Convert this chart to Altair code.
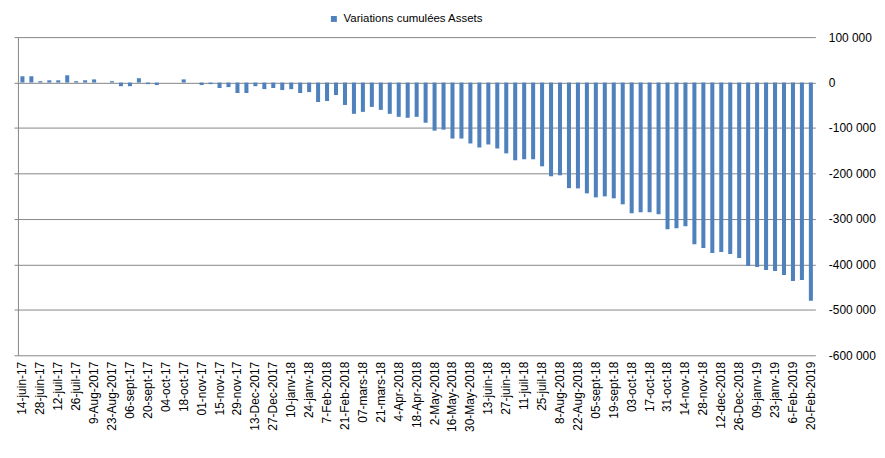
import altair as alt
import pandas as pd

labels = [
    "14-juin-17", "21-juin-17", "28-juin-17", "05-juil-17", "12-juil-17", "19-juil-17",
    "26-juil-17", "2-Aug-2017", "9-Aug-2017", "16-Aug-2017", "23-Aug-2017", "30-Aug-2017",
    "06-sept-17", "13-sept-17", "20-sept-17", "27-sept-17", "04-oct-17", "11-oct-17",
    "18-oct-17", "25-oct-17", "01-nov-17", "08-nov-17", "15-nov-17", "22-nov-17",
    "29-nov-17", "6-Dec-2017", "13-Dec-2017", "20-Dec-2017", "27-Dec-2017", "03-janv-18",
    "10-janv-18", "17-janv-18", "24-janv-18", "31-janv-18", "7-Feb-2018", "14-Feb-2018",
    "21-Feb-2018", "28-Feb-2018", "07-mars-18", "14-mars-18", "21-mars-18", "28-mars-18",
    "4-Apr-2018", "11-Apr-2018", "18-Apr-2018", "25-Apr-2018", "2-May-2018", "9-May-2018",
    "16-May-2018", "23-May-2018", "30-May-2018", "06-juin-18", "13-juin-18", "20-juin-18",
    "27-juin-18", "04-juil-18", "11-juil-18", "18-juil-18", "25-juil-18", "1-Aug-2018",
    "8-Aug-2018", "15-Aug-2018", "22-Aug-2018", "29-Aug-2018", "05-sept-18", "12-sept-18",
    "19-sept-18", "26-sept-18", "03-oct-18", "10-oct-18", "17-oct-18", "24-oct-18",
    "31-oct-18", "07-nov-18", "14-nov-18", "21-nov-18", "28-nov-18", "05-dec-2018",
    "12-dec-2018", "19-Dec-2018", "26-Dec-2018", "02-janv-19", "09-janv-19", "16-janv-19",
    "23-janv-19", "30-janv-19", "6-Feb-2019", "13-Feb-2019", "20-Feb-2019",
]

values = [
    13800, 13800, 3000, 5000, 5000, 16000, 3000, 5000, 7000, 0,
    3000, -8000, -8000, 9500, -3500, -5500, 0, 0, 7000, 0,
    -5500, -3500, -12000, -10000, -23000, -23000, -8000, -14500, -12000, -16500,
    -14500, -23000, -21000, -42800, -40600, -27500, -49300, -68800, -64500, -53600,
    -60100, -68800, -75400, -77500, -75400, -88400, -105800, -103600, -123200, -123200,
    -134000, -142800, -136200, -145000, -155800, -171000, -168800, -168800, -184300, -206200,
    -204000, -232300, -232800, -243800, -252600, -250400, -254700, -267900, -287600, -285400,
    -285400, -289800, -322600, -320400, -316100, -355500, -364200, -375200, -373000, -377400,
    -386100, -403600, -405800, -412400, -414600, -423400, -436500, -434300, -480300,
]

series_name = "Variations cumulées Assets"
y_ticks = [100000, 0, -100000, -200000, -300000, -400000, -500000, -600000]
shown_labels = labels[::2]

df = pd.DataFrame({"cat": labels, "val": values, "serie": [series_name] * len(labels)})

FONT = "Liberation Sans"
GRID = "#868686"

x_scale = alt.Scale(paddingInner=0.55, paddingOuter=0.275)
y_scale = alt.Scale(domain=[-600000, 100000], nice=False, zero=False)

x_enc = alt.X("cat:N", sort=None, scale=x_scale,
              axis=alt.Axis(values=shown_labels, labelAngle=-90, ticks=False, domain=False,
                            grid=False, labelFontSize=12, labelFont=FONT, labelColor="black",
                            labelPadding=6, labelOverlap=False, title=None))

bars = alt.Chart(df).mark_bar(color="#4F81BD").encode(
    x=x_enc,
    y=alt.Y("val:Q", scale=y_scale,
            axis=alt.Axis(orient="right", values=y_ticks,
                          labelExpr="datum.value == 0 ? '0' : (datum.value < 0 ? '-' : '') + format(abs(datum.value) / 1000, 'd') + ' 000'",
                          grid=True, gridColor=GRID, gridWidth=1, domain=False, ticks=False,
                          labelPadding=13, labelFontSize=12, labelFont=FONT,
                          labelColor="black", title=None)),
    color=alt.Color("serie:N",
                    scale=alt.Scale(domain=[series_name], range=["#4F81BD"]),
                    legend=alt.Legend(orient="none", legendX=312, legendY=-24, title=None,
                                      symbolType="square", symbolSize=36,
                                      labelFontSize=11.5, labelFont=FONT, labelColor="black",
                                      symbolStrokeWidth=0)),
)

left_axis = alt.Chart(df).mark_bar(opacity=0).encode(
    x=x_enc,
    y=alt.Y("val:Q", scale=y_scale,
            axis=alt.Axis(orient="left", values=y_ticks, labels=False, grid=False,
                          domain=True, domainColor=GRID, ticks=True, tickSize=4,
                          tickColor=GRID, title=None)),
)

chart = alt.layer(bars, left_axis).resolve_axis(y="independent").properties(
    width=802, height=320,
    autosize=alt.AutoSizeParams(type="none"),
    padding={"left": 10, "top": 28, "right": 62, "bottom": 94},
).configure_view(stroke=None)

chart.save("out.html", embed_options={"renderer": "svg", "actions": False})
